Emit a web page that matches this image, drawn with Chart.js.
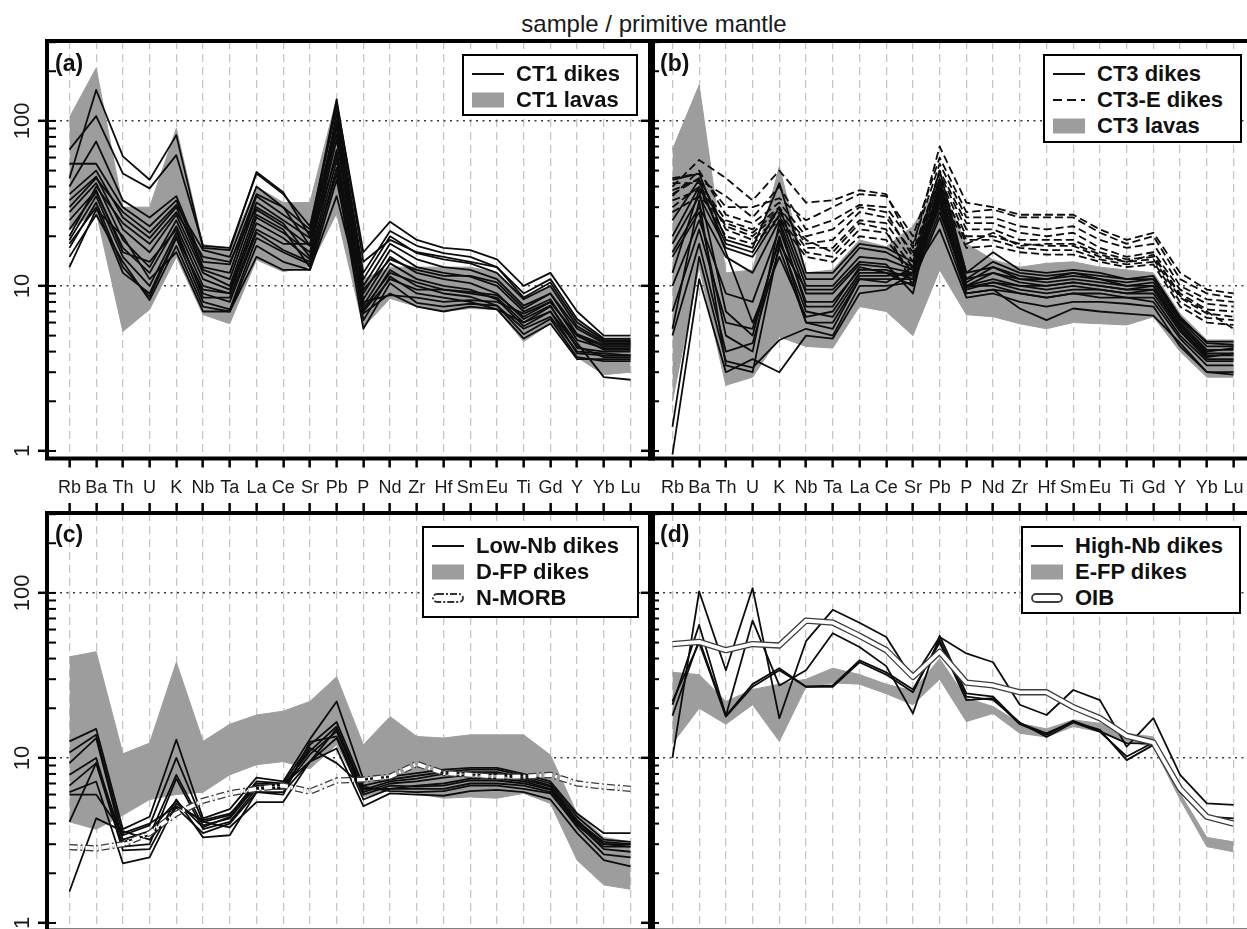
<!DOCTYPE html>
<html>
<head>
<meta charset="utf-8">
<title>sample / primitive mantle</title>
<script src="https://cdn.jsdelivr.net/npm/chart.js@4.4.1/dist/chart.umd.min.js"></script>
<style>
  html, body { margin: 0; padding: 0; background: #fff; overflow: hidden; }
  body { position: relative; width: 1247px; height: 929px; font-family: 'Liberation Sans', Arial, sans-serif; color: #1a1a1a; }
  canvas { position: absolute; }
  .title { position: absolute; left: 404px; width: 500px; top: 12px; text-align: center; font-size: 24px; line-height: 24px; }
  .tag { position: absolute; font-weight: bold; font-size: 23px; line-height: 24px; color: #111; }
  .leg { position: absolute; box-sizing: border-box; border: 2px solid #000; background: #fff; }
  .leg span { position: absolute; font-weight: bold; font-size: 22px; line-height: 24px; white-space: nowrap; color: #111; }
  .leg svg { position: absolute; }
</style>
</head>
<body>
<div class="title">sample / primitive mantle</div>
<canvas id="pa" width="660" height="520" style="left:0;top:0"></canvas>
<canvas id="pb" width="660" height="520" style="left:600px;top:0"></canvas>
<canvas id="pc" width="660" height="480" style="left:0;top:460px"></canvas>
<canvas id="pd" width="660" height="480" style="left:600px;top:460px"></canvas>
<div class="tag" style="left:55px;top:51px">(a)</div>
<div class="tag" style="left:660px;top:51px">(b)</div>
<div class="tag" style="left:55px;top:522px">(c)</div>
<div class="tag" style="left:660px;top:522px">(d)</div>
<script>
// element order of the spider diagram
const elements = ['Rb','Ba','Th','U','K','Nb','Ta','La','Ce','Sr','Pb','P','Nd','Zr','Hf','Sm','Eu','Ti','Gd','Y','Yb','Lu'];
const majorTicks = [1, 10, 100];
const minorTicks = [1,2,3,4,5,6,7,8,9,10,20,30,40,50,60,70,80,90,100,200,300];

// (a) CT1
const ct1LavasMax = [105,209,30,30,90,17.8,17,40,32,32,137,11,13,13,13,13,12,8.6,10,6.3,4.7,4.7];
const ct1LavasMin = [22,28,5.3,7.2,15,6.7,5.9,14.4,12.2,13.1,27.5,5.6,8.4,7.5,7,7.3,7.2,4.6,5.9,3.7,2.9,3.0];
const ct1Dikes = [
  [45,154,61,44,82,17,16.5,49,37,20,130,16,24.5,19,17,16.5,14.5,10,12,7,5,5],
  [67,107,48,39,62,17.5,17,48,36,23,120,12,21.5,17.5,15.8,15,13,9,11,6.3,4.8,4.8],
  [40,75,33,26,35,14,13.5,36,30,17.5,110,11,20,15.8,14.5,13.7,12,8.3,10,5.7,4.6,4.6],
  [55,55,30,23,33,13,12,35,27,21,100,10,18,14.5,13,12.5,11,7.6,9,5.1,4.4,4.4],
  [36,50,26,19.5,30,12.5,11,32,25,19.5,92,9,16.5,13,12,11.4,10,7,8.3,4.7,4.2,4.2],
  [33,46,22,16,27,12,10,29,23,17.5,84,8.3,15,12,11,10.4,9,6.3,7.6,4.2,4,4],
  [28,42,19,13,25,11,9.5,26,21,16,77,7.6,13.7,11,10,9.5,8.3,5.7,7,3.9,3.8,3.8],
  [22,37,17,12,23,10,9,24,19.5,14.5,67,7,12.5,10,9,8.6,7.6,5.1,6.3,3.7,3.5,3.5],
  [19,35,15,10,21,9,8,21,16.5,14,58,6.2,11.4,9,8.5,8,7.2,4.8,5.9,3.6,3.6,3.6],
  [17,32,13,8.6,19.5,8,7.2,19.5,16,13.5,48,5.5,10.4,7.9,7.5,7.8,7.6,5.5,6.5,4,3.9,3.8],
  [15,27,14,8.2,17.5,7.5,7,17.5,14,12.5,44,6.8,9,7.5,7,7.5,7.2,6,7.5,4.5,2.8,2.7],
  [13,29,20,11,16,7,7,15,12.5,12.5,35,8,8.8,8.5,8,8.2,8,6.8,8,5,4.3,4.3],
  [20,40,24,18,28,15,14,30,24,15,95,9.5,14.5,12.5,11.5,11.5,10.5,7.3,9,5.5,4.5,4.5],
  [30,45,28,21,31,16.5,15,40,30,22,135,14,19,16,15,14,13,8.5,10.5,6,4.7,4.7],
  [25,38,16,14,22,8.5,8.5,22,18,18,62,7.3,12,10.5,9.5,9,8.5,6,7,4.3,3.7,3.7],
  [18,30,12,9,20,9.5,9,27,22,13,52,7,11,9.5,9.5,9.2,8.8,6.5,8,5,4.1,4.1]
];

// (b) CT3
const ct3LavasMax = [67,165,12,12.5,53,12,12.5,19,17.3,23,42,18,14.4,13,13.7,14,13,12.5,12,6.8,4.7,4.7];
const ct3LavasMin = [2,13,2.5,2.8,4.9,4.3,4.2,7.5,7,5,12.5,6.7,6.5,5.9,5.5,6,5.9,5.8,6.5,4,2.8,2.8];
const ct3Dikes = [
  [44,48,19,17,42,12,12,18,17,14,50,12,16,12.5,12,12.5,12,11,11.5,6.5,4.5,4.4],
  [20,40,18,16,30,11,11,17,16,13,45,11,14,12,11.5,12,11,10.5,11,6.2,4.3,4.3],
  [18,35,17,15,27,10,10,15,14.5,12.5,40,10.5,13,11,10.5,11,10.5,10,10.5,6,4.1,4.1],
  [16,30,15,12,25,9,9,13.5,13,12,36,10,12,10.5,10,10.5,10,9.5,10,5.7,3.9,3.9],
  [10,25,9,8,22,8,8,12.5,12.5,11,32,10,11,10,9.5,10,9.5,9,9.5,5.5,3.8,3.8],
  [7,22,6,5.5,19,7,6.5,11.5,11.5,12,30,9.5,10.5,9.5,9,9.5,9.5,9,9,5.3,3.6,3.6],
  [5,18,4,4.5,17,6,5.5,11,11,11,28,10,10,9,8.5,9,9,8.5,8.5,5,3.5,3.5],
  [1.4,15,3.5,3.2,4.7,5.5,5,10,10,10.5,26,9,9.5,9,8.5,9,8.5,8.5,8,4.8,3.3,3.3],
  [0.95,11,3,3.6,3,5,4.8,9,9.5,12,22,8.5,9,8,7.5,8,8,7.8,7.5,4.3,3,3],
  [25,44,16,6,15,6.5,7,12,12,10,35,9.8,10.5,10,10,10.5,10,9.5,9.5,5.5,3.7,3.9],
  [15,28,5,4,24,7.5,7.5,13,12,11.5,38,11,12,11,11,11.5,11,10,10,5.8,4,4.2],
  [12,38,7,5,20,6,6,11,10.5,13,33,9,9.5,7.3,6.2,7.3,7,6.8,6.6,4.5,3,2.9],
  [5.5,33,3.3,3,18,9.5,9.5,14,13.5,9,43,12,13,11.5,11,12,11.5,11,11,6.3,4.6,4.6]
];
const ct3EDikes = [
  [40,58,45,33,50,32,33,38,36,17,70,32,30,27,27,27,22,19,21,12,9.5,9],
  [45,48,30,30,34,25,30,36,35,20,60,28,29,26,26,26,21,18,20,11,9,8.5],
  [38,44,35,26,40,22,25,31,30,18,55,26,26,23,22,23,19,17,18,10,8.3,8],
  [35,50,27,24,32,20,22,30,28,15,50,24,24,21,20,21,17,15,16,9.5,7.8,7.5],
  [42,42,25,22,30,18,19,28,26,16,48,22,22,19,19,19,16,14.5,15,9,7.2,7],
  [30,40,23,20,28,17,17,25,24,14,45,20,20,18,17.5,17.5,15,14,14.5,8.5,6.8,6.5],
  [36,45,22,19,26,16,15,22,21,13,40,19,19,17,16.5,16.5,14.5,13.5,14,8,6.4,6.2],
  [33,38,20,18,25,15,14,20,19,12,38,17,17.5,16,15.5,15.5,14,13,13.5,7.5,6,5.8],
  [28,35,24,21,29,19,16,24,22,10,42,18,21,17.5,18,18,15.5,14,15.5,8.7,7,5.5]
];

// (c) Low-Nb
const dfpMax = [41,44,10.6,12.3,38,12.6,16,18.2,19.2,22,31,12,17.8,13.5,13.2,13.8,13.8,13.8,10.4,4.6,3.3,3.1];
const dfpMin = [4.1,3.7,4.5,5.6,6,6.2,7.9,9.1,9.5,8.6,12,5.8,6.4,6.1,5.7,5.8,5.7,6.1,5.3,2.4,1.7,1.6];
const lowNbDikes = [
  [12.6,15,3.7,4.4,12.9,4.3,4.9,7.6,7.2,13,22,7.4,7.7,8.1,8.5,8.7,8.7,8,7.2,4.6,3.5,3.5],
  [10.8,13.8,3.4,3.9,10,4.1,4.5,7.2,7,12,16.5,6.8,7.4,7.8,8.2,8.5,8.5,7.8,7,4.4,3.2,3.1],
  [9.3,13.2,3.1,3.4,7.9,3.9,4.3,6.8,6.8,11,15.5,6.4,7.2,7.5,8,8.2,8.2,7.6,6.8,4.2,3,2.9],
  [7.9,10,2.9,3,7.5,3.7,4.1,6.5,6.5,10.5,14.5,6.2,7,7.2,7.6,7.9,8,7.4,6.7,4,2.8,2.7],
  [6.8,9.3,2.75,2.8,5.6,3.3,3.4,6.2,6.2,9.5,13.2,5.6,6.5,6.5,6.5,7,7,6.8,6.2,3.8,2.6,2.5],
  [6.2,7.2,2.3,2.5,5.3,4.1,3.8,5.4,5.4,9.5,11.4,5.1,6.1,6,5.9,6.3,6.4,6.2,5.6,3.5,2.4,2.2],
  [6,6,3.5,4,5.1,4.2,4.6,6.6,6.6,11.5,9.3,6.7,6.3,6.2,6.3,6.8,6.8,6.5,6.1,3.9,2.9,2.9],
  [4.1,9.3,3.2,3.6,5.5,3.8,4.4,7,6.9,9.5,15,6.5,6.5,6.8,7,7.5,7.5,7.2,6.5,4.1,3.1,3],
  [1.55,4.3,3.6,3.2,5,3.5,4,6.2,6,12.5,13.5,6,6.8,6.7,6.8,7.3,7.3,7,6.4,4,3,3]
];
const nMorb = [2.88,2.83,3.0,3.5,4.6,5.5,6.1,6.5,6.8,6.25,7.3,7.4,7.7,9.2,8.1,7.9,7.7,7.7,7.9,7.0,6.7,6.5];

// (d) High-Nb
const efpMax = [33,32,22,26,28,30,35,32,28,25.5,40,23,20.5,16.2,15,17,16.2,14.1,13.4,6.1,3.3,3.1];
const efpMin = [12.2,20,16,21,12.6,27,28.5,28,24.5,21,30,16.6,18.6,14.1,13.4,15.5,14.4,12.6,11.7,5.6,2.9,2.7];
const highNbDikes = [
  [10,102,34,107,17.4,51,79,66,54,30,54,43,38,21,18.2,25.8,22.4,11.7,17.4,7.9,5.3,5.2],
  [21,64,18,68,27.5,34,57,47,36,18.6,55,24.6,23.5,16.2,14.1,16.6,14.8,9.7,12,6.4,4.4,4.3],
  [18,52,18,28,35,27,27.5,39,33,26,50,22.4,23,16,13.8,16.8,14.5,12.3,12.2,6.3,4.4,4.1],
  [22,50,17.8,27,34,27,27,38,32,25,52,23.5,22.5,16.4,13.4,16.4,14.4,10.2,12.4,6.2,4.3,4.0]
];
const oib = [49,50.5,45,49,48,68,66,55,45,31,44,28.6,27.5,25,25,20.3,17.4,13.6,12.4,6.5,4.4,4.0];

const legendA = ['CT1 dikes', 'CT1 lavas'];
const legendB = ['CT3 dikes', 'CT3-E dikes', 'CT3 lavas'];
const legendC = ['Low-Nb dikes', 'D-FP dikes', 'N-MORB'];
const legendD = ['High-Nb dikes', 'E-FP dikes', 'OIB'];

const FONT = "'Liberation Sans', Arial, sans-serif";
const GREY = '#9d9d9d';
const DASH = [8, 4];
const DASHDOT = [8, 3, 2, 3];

function pts(vals) {
  return vals.map((v, i) => ({x: i, y: v}));
}

function bandSets(max, min) {
  return [
    {data: pts(max), borderColor: GREY, borderWidth: 1, backgroundColor: GREY, fill: '+1', order: 5},
    {data: pts(min), borderColor: GREY, borderWidth: 1, fill: false, order: 5}
  ];
}

function lineSets(list, dash) {
  return list.map(v => ({
    data: pts(v), borderColor: '#0d0d0d', borderWidth: 1.8, borderDash: dash || [], fill: false, order: 3
  }));
}

function doubleSets(vals, dash) {
  return [
    {data: pts(vals), borderColor: '#3c3c3c', borderWidth: 6.3, borderDash: dash || [], fill: false, order: 2},
    {data: pts(vals), borderColor: '#fff', borderWidth: 3.7, borderDash: dash || [], fill: false, order: 1}
  ];
}

// frame, short inward ticks and rotated y labels, all placed with the y scale
const decorPlugin = {
  id: 'decor',
  afterDraw(chart, args, opts) {
    const ctx = chart.ctx;
    const a = chart.chartArea;
    const s = chart.scales.y;
    ctx.save();
    ctx.setLineDash([]);
    ctx.fillStyle = '#000';
    minorTicks.forEach(v => {
      const y = s.getPixelForValue(v);
      ctx.fillRect(a.left, y - 1, 9, 2);
    });
    ctx.strokeStyle = '#000';
    ctx.lineWidth = 4;
    ctx.strokeRect(a.left, a.top, a.right - a.left, a.bottom - a.top);
    if (opts.show) {
      ctx.font = '22px ' + FONT;
      ctx.fillStyle = '#1a1a1a';
      ctx.textAlign = 'center';
      ctx.textBaseline = 'middle';
      majorTicks.forEach(v => {
        ctx.save();
        ctx.translate(23, s.getPixelForValue(v));
        ctx.rotate(-Math.PI / 2);
        ctx.fillText(String(v), 0, 0);
        ctx.restore();
      });
    }
    ctx.restore();
  }
};

function spider(id, datasets, opt) {
  return new Chart(document.getElementById(id), {
    type: 'line',
    data: {datasets: datasets},
    options: {
      responsive: false,
      animation: false,
      events: [],
      layout: {padding: opt.pad},
      plugins: {legend: {display: false}, tooltip: {enabled: false}, decor: {show: opt.yLabels}},
      elements: {point: {radius: 0}, line: {tension: 0, borderJoinStyle: 'round'}},
      scales: {
        x: {
          type: 'linear',
          position: opt.top ? 'top' : 'bottom',
          min: -0.84, max: 21.84,
          afterBuildTicks: s => { s.ticks = elements.map((e, i) => ({value: i})); },
          afterFit: s => { s.height = opt.xh; },
          ticks: {
            display: !opt.top, autoSkip: false, maxRotation: 0, minRotation: 0, padding: 10,
            color: '#1a1a1a', font: {family: FONT, size: 18},
            callback: v => elements[v]
          },
          grid: {color: '#c6c6c6', lineWidth: 1.3, tickColor: '#000', tickWidth: 2.5, tickLength: opt.top ? 10 : 9},
          border: {display: false, dash: [8, 5]}
        },
        y: {
          type: 'logarithmic',
          position: 'left',
          min: 0.9, max: 305,
          afterBuildTicks: s => { s.ticks = majorTicks.map(v => ({value: v})); },
          afterFit: s => { s.width = opt.yw; },
          ticks: {display: false},
          grid: {
            color: c => (c.tick && c.tick.value === 1) ? 'rgba(0,0,0,0)' : '#3a3a3a',
            lineWidth: 1.6, tickColor: '#000', tickWidth: 2.5, tickLength: 9
          },
          border: {display: false, dash: [2, 4.5]}
        }
      }
    },
    plugins: [decorPlugin]
  });
}

spider('pa',
  [...lineSets(ct1Dikes), ...bandSets(ct1LavasMax, ct1LavasMin)],
  {pad: {left: 0, right: 7, top: 41, bottom: 0}, xh: 61.5, yw: 47, yLabels: true});

spider('pb',
  [...lineSets(ct3EDikes, DASH), ...lineSets(ct3Dikes), ...bandSets(ct3LavasMax, ct3LavasMin)],
  {pad: {left: 0, right: 4, top: 41, bottom: 0}, xh: 61.5, yw: 50, yLabels: false});

spider('pc',
  [...doubleSets(nMorb, DASHDOT), ...lineSets(lowNbDikes), ...bandSets(dfpMax, dfpMin)],
  {pad: {left: 0, right: 7, top: 43, bottom: 9.5}, xh: 10, yw: 47, yLabels: true, top: true});

spider('pd',
  [...doubleSets(oib), ...lineSets(highNbDikes), ...bandSets(efpMax, efpMin)],
  {pad: {left: 0, right: 4, top: 43, bottom: 9.5}, xh: 10, yw: 50, yLabels: false, top: true});

// legends
const SYM = {
  line: '<line x1="0" y1="8" x2="32" y2="8" stroke="#111" stroke-width="2"/>',
  dash: '<line x1="0" y1="8" x2="32" y2="8" stroke="#111" stroke-width="2" stroke-dasharray="9 5"/>',
  band: '<rect x="0" y="0.5" width="32" height="15" fill="' + GREY + '"/>',
  dbl: '<rect x="1" y="4" width="30" height="8" rx="4" fill="none" stroke="#3c3c3c" stroke-width="1.8"/>',
  dbldash: '<rect x="1" y="4" width="30" height="8" rx="4" fill="none" stroke="#333" stroke-width="1.8" stroke-dasharray="7 2 2 2"/>'
};

function addLegend(left, top, w, h, labels, syms) {
  const box = document.createElement('div');
  box.className = 'leg';
  box.style.left = left + 'px';
  box.style.top = top + 'px';
  box.style.width = w + 'px';
  box.style.height = h + 'px';
  labels.forEach((lab, k) => {
    const cy = 20 + k * 26 - 2;
    const svg = document.createElementNS('http://www.w3.org/2000/svg', 'svg');
    svg.setAttribute('width', '32');
    svg.setAttribute('height', '16');
    svg.style.left = '8px';
    svg.style.top = (cy - 8) + 'px';
    svg.innerHTML = SYM[syms[k]];
    box.appendChild(svg);
    const sp = document.createElement('span');
    sp.textContent = lab;
    sp.style.left = '52px';
    sp.style.top = (cy - 12) + 'px';
    box.appendChild(sp);
  });
  document.body.appendChild(box);
}

addLegend(462, 54, 176, 62, legendA, ['line', 'band']);
addLegend(1043, 54, 199, 89, legendB, ['line', 'dash', 'band']);
addLegend(422, 526, 217, 92, legendC, ['line', 'band', 'dbldash']);
addLegend(1021, 526, 220, 88, legendD, ['line', 'band', 'dbl']);
</script>
</body>
</html>
